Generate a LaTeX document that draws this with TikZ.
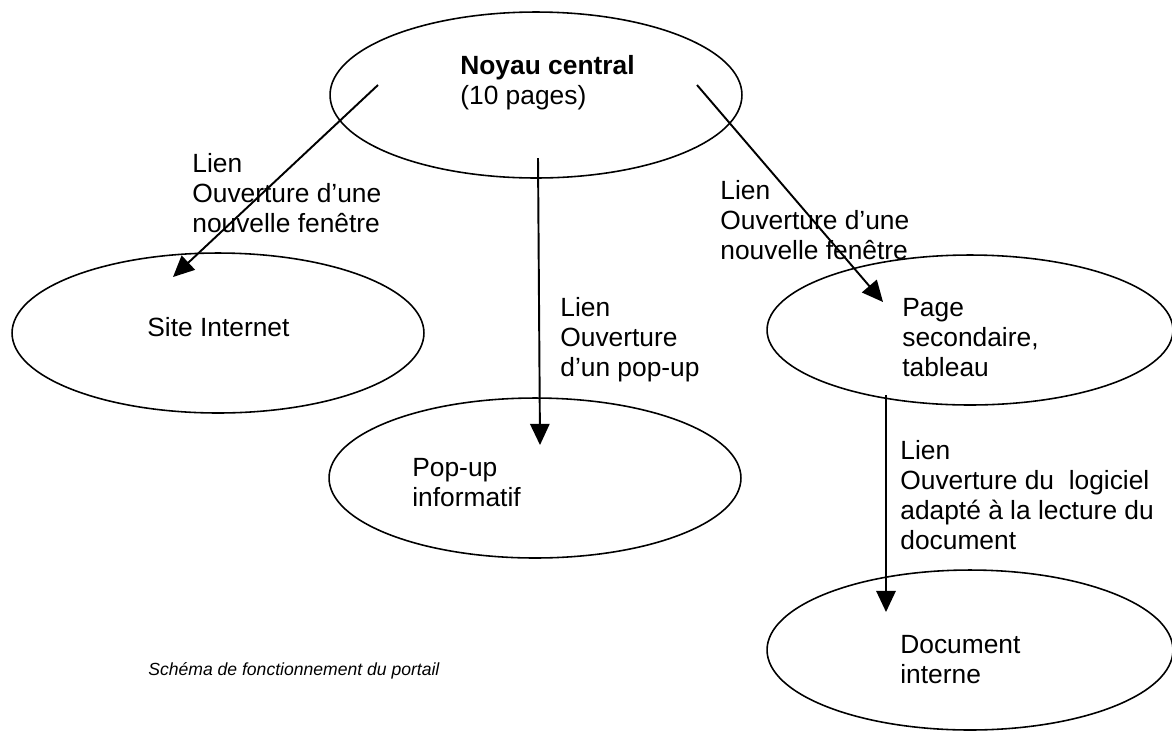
\documentclass[tikz,border=0pt]{standalone}
\usepackage{fontspec}
\setmainfont{Liberation Sans}
\usetikzlibrary{shapes.geometric,arrows.meta}

\begin{document}
\begin{tikzpicture}[x=0.02cm,y=-0.02cm,
    bulle/.style={draw, ellipse, line width=0.9pt, inner sep=0pt},
    lien/.style={line width=1.1pt, -{Triangle[length=12pt,width=11pt]}},
    texte/.style={anchor=north west, align=left, inner sep=0pt,
      font=\fontsize{15}{17}\selectfont}]
    \useasboundingbox (0,0) rectangle (1172,731);

    % Ellipses.
    \node[bulle, minimum width=8.24cm, minimum height=3.32cm] (noyau) at (536,95) {};
    \node[bulle, minimum width=8.24cm, minimum height=3.2cm] (site) at (218,333) {};
    \node[bulle, minimum width=8.24cm, minimum height=3.2cm] (popup) at (535,478) {};
    \node[bulle, minimum width=8.12cm, minimum height=3.0cm] (page) at (970,330) {};
    \node[bulle, minimum width=8.12cm, minimum height=3.2cm] (doc) at (970,650) {};

    % Textes des ellipses.
    \node[texte] (noyauT) at (460,55) {\textbf{Noyau central}\\(10 pages)};
    \node[texte] (siteT) at (147,317) {Site Internet};
    \node[texte] (popupT) at (412,458) {Pop-up\\informatif};
    \node[texte] (pageT) at (902,298) {Page\\secondaire,\\tableau};
    \node[texte] (docT) at (900,635) {Document\\interne};

    % Liens.
    \coordinate (n1) at (378,85);
    \coordinate (n2) at (538,158);
    \coordinate (n3) at (697,85);
    \coordinate (s1) at (173,277);
    \coordinate (p1) at (540,445);
    \coordinate (g1) at (883,302);
    \coordinate (g2) at (886,395);
    \coordinate (d1) at (886,612);
    \draw[lien] (n1) -- (s1);
    \draw[lien] (n2) -- (p1);
    \draw[lien] (n3) -- (g1);
    \draw[lien] (g2) -- (d1);

    \node[texte] (lienS) at (192,153) {Lien\\Ouverture d'une\\nouvelle fenêtre};
    \node[texte] (lienP) at (560,297) {Lien\\Ouverture\\d'un pop-up};
    \node[texte] (lienG) at (720,180) {Lien\\Ouverture d'une\\nouvelle fenêtre};
    \node[texte] (lienD) at (900,440) {Lien\\Ouverture du \ logiciel\\adapté à la lecture du\\document};

    \node[texte, font=\fontsize{10}{12}\selectfont\itshape] (legende) at (148,662)
      {Schéma de fonctionnement du portail};
\end{tikzpicture}
\end{document}
